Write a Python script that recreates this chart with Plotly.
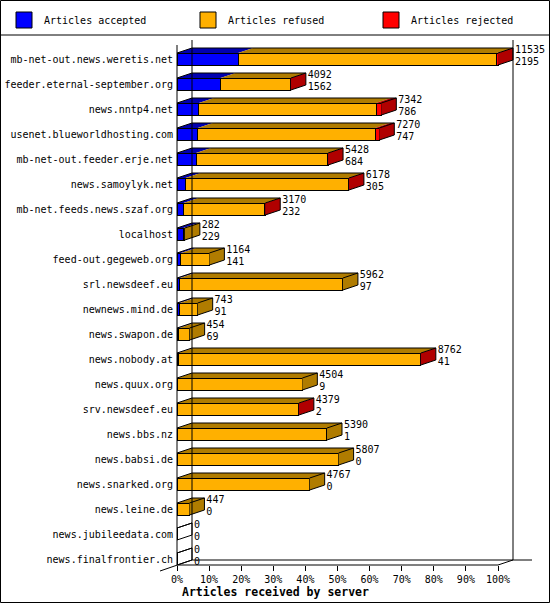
import plotly.graph_objects as go

servers = [
    "mb-net-out.news.weretis.net", "feeder.eternal-september.org", "news.nntp4.net",
    "usenet.blueworldhosting.com", "mb-net-out.feeder.erje.net", "news.samoylyk.net",
    "mb-net.feeds.news.szaf.org", "localhost", "feed-out.gegeweb.org", "srl.newsdeef.eu",
    "newnews.mind.de", "news.swapon.de", "news.nobody.at", "news.quux.org",
    "srv.newsdeef.eu", "news.bbs.nz", "news.babsi.de", "news.snarked.org",
    "news.leine.de", "news.jubileedata.com", "news.finalfrontier.ch",
]
offered = [11535, 4092, 7342, 7270, 5428, 6178, 3170, 282, 1164, 5962, 743, 454,
           8762, 4504, 4379, 5390, 5807, 4767, 447, 0, 0]
accepted = [2195, 1562, 786, 747, 684, 305, 232, 229, 141, 97, 91, 69,
            41, 9, 2, 1, 0, 0, 0, 0, 0]
rejected = [40, 15, 190, 150, 15, 20, 10, 0, 0, 0, 0, 0,
            10, 0, 5, 0, 0, 0, 0, 0, 0]
refused = [o - a - r for o, a, r in zip(offered, accepted, rejected)]

legend_names = ["Articles accepted", "Articles refused", "Articles rejected"]
tick_vals = list(range(0, 101, 10))
tick_text = [f"{v}%" for v in tick_vals]

FONT = "DejaVu Sans Mono"
front_colors = ["#0000ff", "#ffb000", "#ff0000"]
dark_colors = ["#0000b0", "#b07c00", "#b00000"]

# pixel geometry of the plot (front 0% .. 100% spans 321 px, rows 25 px apart)
W, H = 550, 605
L, R, T, B = 177, 0, 35, 40
PX_X = 100 / 321.0
PX_Y = 1 / 25.0
DX = 15 * PX_X          # depth of the 3d bars
DY = 5 * PX_Y
HALF = 6 * PX_Y
y_top = (T - 59) * PX_Y
y_bot = (H - B - 59) * PX_Y
x_max = (W - L - R) * PX_X


def px(p):
    return (p - L) / (W - L - R)


def py(p):
    return (H - B - p) / (H - T - B)


biggest = max(offered)
series = [
    [a / biggest * 100 for a in accepted],
    [f / biggest * 100 for f in refused],
    [r / biggest * 100 for r in rejected],
]
rows = list(range(len(servers)))

fig = go.Figure()

# front faces
for k in range(3):
    fig.add_trace(go.Bar(
        x=series[k], y=rows, orientation="h", width=2 * HALF,
        marker=dict(color=front_colors[k], line=dict(color="black", width=1)),
        showlegend=False, hoverinfo="skip",
    ))

# top and side faces
polys = [([], []) for _ in range(3)]
outline_x, outline_y = [], []
for i in rows:
    t, b = i - HALF, i + HALF
    start = 0.0
    last = None
    for k in range(3):
        w = series[k][i]
        if w > 0:
            xs, ys = polys[k]
            xs += [start, start + w, start + w + DX, start + DX, start, None]
            ys += [t, t, t - DY, t - DY, t, None]
            last = k
        start += w
    e = start
    if last is not None:
        xs, ys = polys[last]
        xs += [e, e + DX, e + DX, e, e, None]
        ys += [t, t - DY, b - DY, b, t, None]
    outline_x += [0, DX, e + DX, e + DX, e, None, e, e + DX, None]
    outline_y += [t, t - DY, t - DY, b - DY, b, None, t, t - DY, None]

for k in range(3):
    fig.add_trace(go.Scatter(
        x=polys[k][0], y=polys[k][1], mode="lines", fill="toself",
        fillcolor=dark_colors[k], line=dict(width=0), showlegend=False,
        hoverinfo="skip",
    ))
fig.add_trace(go.Scatter(
    x=outline_x, y=outline_y, mode="lines", line=dict(color="black", width=1),
    showlegend=False, hoverinfo="skip",
))

# value labels
ends = [series[0][i] + series[1][i] + series[2][i] + DX + 0.6 for i in rows]
fig.add_trace(go.Scatter(
    x=ends, y=[i - 0.36 for i in rows], mode="text", text=[str(v) for v in offered],
    textposition="middle right", textfont=dict(family=FONT, size=10, color="black"),
    cliponaxis=False, showlegend=False, hoverinfo="skip",
))
fig.add_trace(go.Scatter(
    x=ends, y=[i + 0.15 for i in rows], mode="text", text=[str(v) for v in accepted],
    textposition="middle right", textfont=dict(family=FONT, size=10, color="black"),
    cliponaxis=False, showlegend=False, hoverinfo="skip",
))

# legend keys, one legend per entry so each can sit where the reference has it
legend_ids = ["legend", "legend2", "legend3"]
legend_x = [4, 188, 371]
for k in range(3):
    fig.add_trace(go.Scatter(
        x=[None], y=[None], mode="markers", name=legend_names[k], legend=legend_ids[k],
        marker=dict(symbol="square", size=16, color=front_colors[k],
                    line=dict(color="black", width=1)),
    ))

# walls and floor
frame = [
    (L, 45, L, H - B),
    (L + 15, 40, L + 15, H - B - 5),
    (498 + 15, 40, 498 + 15, H - B - 5),
    (L + 15, H - B - 5, 532, H - B - 5),
    (L, H - B, 498, H - B),
    (498, H - B, 498 + 15, H - B - 5),
    (160, H - B + 6, L + 15, H - B - 5),
    (0, T, W, T),
]
shapes = [dict(type="line", xref="paper", yref="paper", x0=px(a), y0=py(b),
               x1=px(c), y1=py(d), line=dict(color="black", width=1))
          for a, b, c, d in frame]
shapes.append(dict(type="rect", xref="paper", yref="paper", x0=px(0.5), y0=py(0.5),
                   x1=px(549.5), y1=py(602.5), line=dict(color="black", width=1)))

legends = {}
for k in range(3):
    legends[legend_ids[k]] = dict(
        orientation="h", xref="container", yref="container",
        x=legend_x[k] / W, y=1 - 20 / H, xanchor="left", yanchor="middle",
        font=dict(family=FONT, size=10), bgcolor="rgba(0,0,0,0)",
    )

fig.update_layout(
    width=W, height=H,
    margin=dict(l=L, r=R, t=T, b=B),
    barmode="stack",
    paper_bgcolor="white", plot_bgcolor="white",
    font=dict(family=FONT, size=10, color="black"),
    shapes=shapes,
    showlegend=True,
    annotations=[dict(
        text="<b>Articles received by server</b>", xref="paper", yref="paper",
        x=px(180), y=py(592), xanchor="left", yanchor="middle", showarrow=False,
        font=dict(family=FONT, size=11.5, color="black"),
    )],
    xaxis=dict(
        range=[0, x_max], tickvals=tick_vals, ticktext=tick_text,
        ticks="outside", ticklen=5, tickcolor="black", tickwidth=1,
        showgrid=False, zeroline=False, showline=False, fixedrange=True,
    ),
    yaxis=dict(
        range=[y_bot, y_top], tickvals=rows, ticktext=servers, ticklabelstandoff=3,
        ticks="", showgrid=False, zeroline=False, showline=False, fixedrange=True,
    ),
    **legends,
)

fig.write_html("out.html", config={"displayModeBar": False},
               post_script="document.body.style.margin='0px';")
